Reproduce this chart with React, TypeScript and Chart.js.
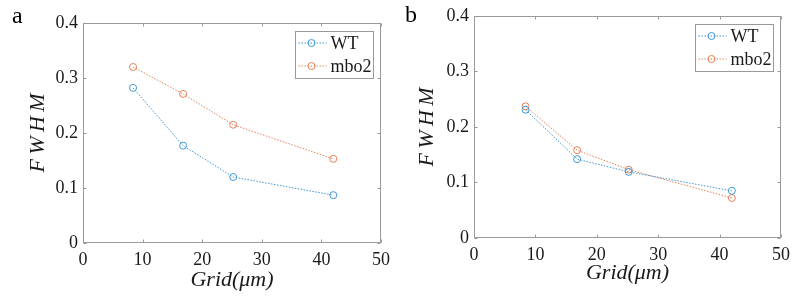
import React, { useEffect, useRef } from "react";
import { Chart, registerables } from "chart.js";

Chart.register(...registerables);

// ---- data ----
const gridSizes = [8.4, 16.8, 25.2, 42];
const wtA = [0.282, 0.177, 0.12, 0.087];
const mboA = [0.32, 0.271, 0.215, 0.153];
const wtB = [0.231, 0.142, 0.119, 0.085];
const mboB = [0.237, 0.158, 0.123, 0.072];
const seriesNames = ["WT", "mbo2"];
const xTicks = [0, 10, 20, 30, 40, 50];
const yTicks = [0, 0.1, 0.2, 0.3, 0.4];
const panelLabels = ["a", "b"];
const xTitle = "Grid(\u03bcm)";
const yTitle = "F\u2009W\u2009H\u2009M";

const BLUE = "#3f98d4";
const ORANGE = "#e5825a";
const FRAME = "#9a9a9a";
const TEXT = "#1a1a1a";
const FONT = "'Liberation Serif', 'Times New Roman', serif";

Chart.defaults.font.family = FONT;

type Panel = {
  label: string;
  wt: number[];
  mbo: number[];
  left: number;
  width: number;
  padTop: number;
  padRight: number;
  yAxisWidth: number;
  xAxisHeight: number;
  yTitlePad: number;
  xTitlePad: number;
  labelX: number;
  labelY: number;
};

const panels: Panel[] = [
  {
    label: panelLabels[0], wt: wtA, mbo: mboA, left: 0, width: 400,
    padTop: 23, padRight: 19, yAxisWidth: 83, xAxisHeight: 56,
    yTitlePad: 25, xTitlePad: 6, labelX: 12, labelY: 23,
  },
  {
    label: panelLabels[1], wt: wtB, mbo: mboB, left: 400, width: 397,
    padTop: 13, padRight: 16, yAxisWidth: 74, xAxisHeight: 61,
    yTitlePad: 14, xTitlePad: 13, labelX: 5, labelY: 22,
  },
];

const matlabPlugin = {
  id: "matlabDeco",
  afterDraw(chart: any, _args: any, opts: any) {
    const { ctx, chartArea: ca, scales } = chart;
    ctx.save();
    const L = Math.round(ca.left) + 0.5;
    const R = Math.round(ca.right) - 0.5;
    const T = Math.round(ca.top) + 0.5;
    const B = Math.round(ca.bottom) - 0.5;
    ctx.strokeStyle = FRAME;
    ctx.lineWidth = 1;
    ctx.setLineDash([]);
    ctx.strokeRect(L, T, R - L, B - T);
    const tl = 3;
    ctx.beginPath();
    scales.x.ticks.forEach((t: any) => {
      const px = Math.round(scales.x.getPixelForValue(t.value)) + 0.5;
      ctx.moveTo(px, B); ctx.lineTo(px, B - tl);
      ctx.moveTo(px, T); ctx.lineTo(px, T + tl);
    });
    scales.y.ticks.forEach((t: any) => {
      const py = Math.round(scales.y.getPixelForValue(t.value)) + 0.5;
      ctx.moveTo(L, py); ctx.lineTo(L + tl, py);
      ctx.moveTo(R, py); ctx.lineTo(R - tl, py);
    });
    ctx.stroke();

    // legend
    const w = 78, h = 47;
    const bx = Math.round(ca.right) - 8 - w + 0.5;
    const by = Math.round(ca.top) + 8 + 0.5;
    ctx.fillStyle = "#ffffff";
    ctx.fillRect(bx, by, w, h);
    ctx.strokeStyle = FRAME;
    ctx.strokeRect(bx, by, w, h);
    ctx.font = `18px ${FONT}`;
    ctx.textBaseline = "middle";
    chart.data.datasets.forEach((ds: any, i: number) => {
      const cy = by + 11.5 + i * 23;
      ctx.strokeStyle = ds.borderColor;
      ctx.lineWidth = 1;
      ctx.setLineDash([1.5, 1.5]);
      ctx.beginPath();
      ctx.moveTo(bx + 3, cy); ctx.lineTo(bx + 31, cy);
      ctx.stroke();
      ctx.setLineDash([]);
      ctx.beginPath();
      ctx.arc(bx + 16, cy, 3.5, 0, Math.PI * 2);
      ctx.stroke();
      ctx.fillStyle = TEXT;
      ctx.fillText(ds.label, bx + 35, cy + 1);
    });

    // panel label
    ctx.font = `24px ${FONT}`;
    ctx.textBaseline = "alphabetic";
    ctx.fillStyle = "#000";
    ctx.fillText(opts.label, opts.x, opts.y);
    ctx.restore();
  },
};

function PanelChart({ p }: { p: Panel }) {
  const ref = useRef<HTMLCanvasElement | null>(null);
  useEffect(() => {
    if (!ref.current) return;
    const mk = (name: string, vals: number[], color: string) => ({
      label: name,
      data: gridSizes.map((g, i) => ({ x: g, y: vals[i] })),
      borderColor: color,
      backgroundColor: "rgba(0,0,0,0)",
      borderWidth: 1,
      borderDash: [1.5, 1.5],
      pointStyle: "circle",
      pointRadius: 3.5,
      pointBorderWidth: 1,
      pointBackgroundColor: "rgba(0,0,0,0)",
      pointBorderColor: color,
      tension: 0,
      fill: false,
    });
    const chart = new Chart(ref.current, {
      type: "line",
      data: {
        datasets: [mk(seriesNames[0], p.wt, BLUE), mk(seriesNames[1], p.mbo, ORANGE)],
      },
      options: {
        animation: false,
        responsive: false,
        layout: { padding: { top: p.padTop, right: p.padRight, left: 0, bottom: 0 } },
        plugins: {
          legend: { display: false },
          tooltip: { enabled: false },
          matlabDeco: { label: p.label, x: p.labelX, y: p.labelY },
        } as any,
        scales: {
          x: {
            type: "linear",
            min: 0,
            max: 50,
            afterBuildTicks: (s: any) => { s.ticks = xTicks.map((v) => ({ value: v })); },
            afterFit: (s: any) => { s.height = p.xAxisHeight; },
            ticks: {
              padding: 6,
              color: TEXT,
              font: { family: FONT, size: 18 },
              callback: (v: any) => String(v),
              maxRotation: 0,
            },
            grid: { display: false, drawTicks: false },
            border: { display: false },
            title: {
              display: true,
              text: xTitle,
              color: TEXT,
              font: { family: FONT, size: 22, style: "italic" },
              padding: { top: 0, bottom: p.xTitlePad },
            },
          },
          y: {
            type: "linear",
            min: 0,
            max: 0.4,
            afterBuildTicks: (s: any) => { s.ticks = yTicks.map((v) => ({ value: v })); },
            afterFit: (s: any) => { s.width = p.yAxisWidth; },
            ticks: {
              padding: 5,
              color: TEXT,
              font: { family: FONT, size: 18 },
              callback: (v: any) => String(v),
            },
            grid: { display: false, drawTicks: false },
            border: { display: false },
            title: {
              display: true,
              text: yTitle,
              color: TEXT,
              font: { family: FONT, size: 22, style: "italic" },
              padding: { top: p.yTitlePad, bottom: 0 },
            },
          },
        },
      },
      plugins: [matlabPlugin],
    } as any);
    return () => chart.destroy();
  }, [p]);
  return (
    <canvas
      ref={ref}
      width={p.width}
      height={299}
      style={{ position: "absolute", left: p.left, top: 0, width: p.width, height: 299 }}
    />
  );
}

export default function App() {
  return (
    <div style={{ position: "fixed", left: 0, top: 0, width: 797, height: 299, background: "#fff" }}>
      {panels.map((p) => (
        <PanelChart key={p.label} p={p} />
      ))}
    </div>
  );
}
